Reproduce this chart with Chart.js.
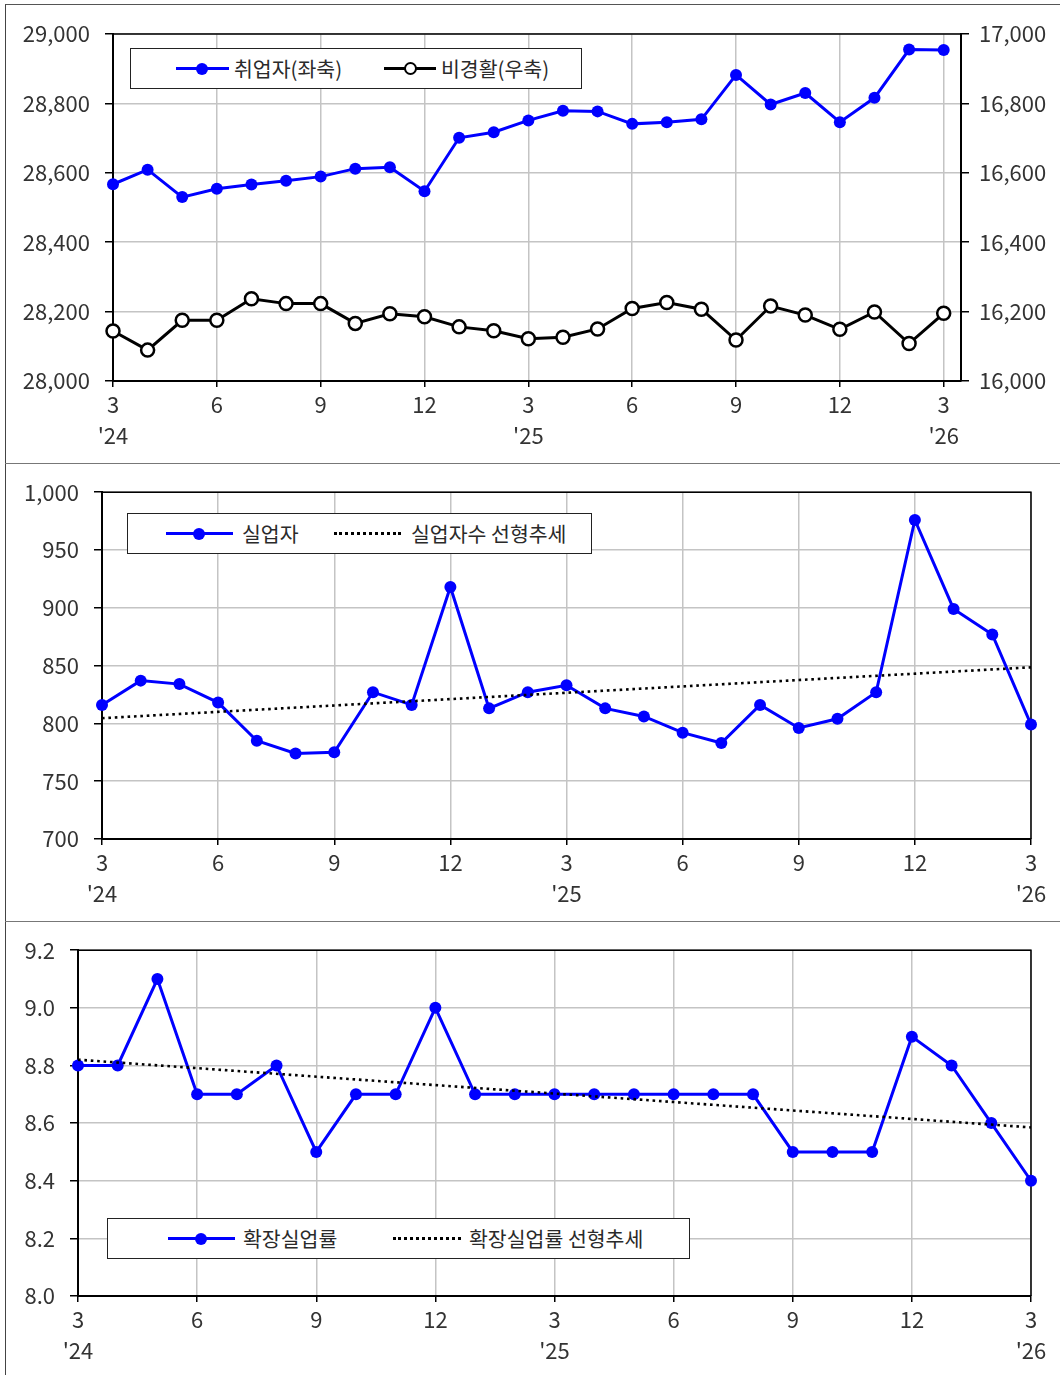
<!DOCTYPE html>
<html>
<head>
<meta charset="utf-8">
<script src="https://cdn.jsdelivr.net/npm/chart.js@4.4.1/dist/chart.umd.min.js"></script>
<style>
  body { margin: 0; background: #fff; width: 1060px; height: 1375px; position: relative; overflow: hidden;
         font-family: 'Noto Sans CJK KR', sans-serif; color: #222; }
  .frame { position: absolute; left: 5px; top: 4px; width: 1055px; height: 1371px; box-sizing: border-box;
           border-left: 1.5px solid #444; border-top: 1.5px solid #555; }
  .sep { position: absolute; left: 5px; width: 1055px; height: 0; border-top: 1.5px solid #777; }
  .panel { position: absolute; left: 6px; width: 1054px; }
  .legend { position: absolute; border: 1.5px solid #222; background: #fff; box-sizing: border-box; }
  .smp { position: absolute; height: 3px; }
  .dots { position: absolute; height: 0; border-top: 3px dotted #000; }
  .mk { position: absolute; width: 12px; height: 12px; border-radius: 50%; box-sizing: border-box; }
  .txt { position: absolute; font-size: 20.5px; line-height: 20px; white-space: nowrap; color: #2a2a2a; }
</style>
</head>
<body>
<div class="frame"></div>
<div class="sep" style="top:463px"></div>
<div class="sep" style="top:921px"></div>

<div class="panel" style="top:5px;height:457px"><canvas id="chart1"></canvas></div>
<div class="panel" style="top:464px;height:456px"><canvas id="chart2"></canvas></div>
<div class="panel" style="top:922px;height:453px"><canvas id="chart3"></canvas></div>

<div class="legend" style="left:130px;top:48px;width:452px;height:41px">
  <div class="smp" style="left:45px;top:18px;width:53px;background:#00f"></div>
  <div class="mk" style="left:65px;top:13.5px;background:#00f"></div>
  <div class="txt" style="left:103px;top:9px">취업자(좌축)</div>
  <div class="smp" style="left:253px;top:18px;width:52px;background:#000"></div>
  <div class="mk" style="left:273px;top:13px;width:13px;height:13px;background:#fff;border:2.5px solid #000"></div>
  <div class="txt" style="left:310px;top:9px">비경활(우축)</div>
</div>

<div class="legend" style="left:127px;top:513px;width:465px;height:41px">
  <div class="smp" style="left:38px;top:18px;width:67px;background:#00f"></div>
  <div class="mk" style="left:65px;top:13.5px;background:#00f"></div>
  <div class="txt" style="left:114px;top:9px">실업자</div>
  <div class="dots" style="left:206px;top:18px;width:67px"></div>
  <div class="txt" style="left:283px;top:9px">실업자수 선형추세</div>
</div>

<div class="legend" style="left:107px;top:1218px;width:583px;height:41px">
  <div class="smp" style="left:60px;top:18px;width:67px;background:#00f"></div>
  <div class="mk" style="left:87px;top:13.5px;background:#00f"></div>
  <div class="txt" style="left:135px;top:9px">확장실업률</div>
  <div class="dots" style="left:285px;top:18px;width:68px"></div>
  <div class="txt" style="left:361px;top:9px">확장실업률 선형추세</div>
</div>

<script>
// months 2024.3 ~ 2026.3
const months = ['24.3', '24.4', '24.5', '24.6', '24.7', '24.8', '24.9', '24.10', '24.11', '24.12',
                '25.1', '25.2', '25.3', '25.4', '25.5', '25.6', '25.7', '25.8', '25.9', '25.10',
                '25.11', '25.12', '26.1', '26.2', '26.3'];
const tickIndex = [0, 3, 6, 9, 12, 15, 18, 21, 24];
const tickLabels = [['3', "'24"], '6', '9', '12', ['3', "'25"], '6', '9', '12', ['3', "'26"]];

// 천명
const employed = [28567, 28609, 28530, 28554, 28566, 28577, 28589, 28612, 28616, 28547,
                  28701, 28717, 28751, 28779, 28777, 28741, 28746, 28754, 28882, 28797,
                  28830, 28746, 28816, 28955, 28954];
const inactive = [16144, 16089, 16175, 16175, 16237, 16223, 16223, 16166, 16194, 16185,
                  16156, 16145, 16122, 16126, 16150, 16209, 16226, 16207, 16118, 16216,
                  16190, 16149, 16199, 16108, 16195];
const unemployed = [816, 837, 834, 818, 785, 774, 775, 827, 816, 918,
                    813, 827, 833, 813, 806, 792, 783, 816, 796, 804,
                    827, 976, 899, 877, 799];
const unemployedTrend = [804.5, 848.5];   // 첫 달, 마지막 달
const extRate = [8.8, 8.8, 9.1, 8.7, 8.7, 8.8, 8.5, 8.7, 8.7, 9.0,
                 8.7, 8.7, 8.7, 8.7, 8.7, 8.7, 8.7, 8.7, 8.5, 8.5,
                 8.5, 8.9, 8.8, 8.6, 8.4];
const extRateTrend = [8.82, 8.585];

const font = { family: "'Noto Sans CJK KR', sans-serif", size: 22 };
const gridColor = '#c4c4c4';

function toPoints(values) {
    return values.map((v, i) => ({ x: i, y: v }));
}
function trendPoints(ends) {
    return [{ x: 0, y: ends[0] }, { x: months.length - 1, y: ends[1] }];
}

const framePlugin = {
    id: 'frame',
    beforeDatasetsDraw(chart, args, opts) {
        const a = chart.chartArea;
        const ctx = chart.ctx;
        ctx.save();
        ctx.strokeStyle = '#000';
        ctx.lineWidth = 1.5;
        ctx.beginPath();
        ctx.moveTo(a.left, a.top);
        ctx.lineTo(a.right, a.top);
        if (opts.right) {
            ctx.lineTo(a.right, a.bottom);
        }
        ctx.stroke();
        ctx.restore();
    }
};

function xScale(max, height) {
    return {
        type: 'linear',
        min: 0,
        max: max,
        afterBuildTicks: s => { s.ticks = tickIndex.map(v => ({ value: v })); },
        afterFit: s => { s.height = height; },
        grid: { color: gridColor, lineWidth: 1.5, tickLength: 6, tickColor: '#000', tickWidth: 1.5 },
        border: { color: '#000', width: 2 },
        ticks: {
            font: Object.assign({ lineHeight: 1.42 }, font),
            color: '#333',
            padding: 2,
            maxRotation: 0,
            autoSkip: false,
            callback: (v, i) => tickLabels[i]
        }
    };
}

function yScale(min, max, step, width, fmt, extra) {
    return Object.assign({
        type: 'linear',
        min: min,
        max: max,
        afterFit: s => { s.width = width; },
        grid: { color: gridColor, lineWidth: 1.5, tickLength: 8, tickColor: '#000', tickWidth: 1.5 },
        border: { color: '#000', width: 2 },
        ticks: { stepSize: step, font: font, color: '#333', padding: 15, callback: fmt }
    }, extra || {});
}

const commaFmt = v => Number(v).toLocaleString('en-US');

const baseOptions = {
    responsive: true,
    maintainAspectRatio: false,
    animation: false,
    plugins: { legend: { display: false }, tooltip: { enabled: false } }
};

const blueLine = {
    borderColor: '#0000ff',
    backgroundColor: '#0000ff',
    borderWidth: 3,
    pointRadius: 6,
    pointBorderWidth: 0,
    pointBackgroundColor: '#0000ff',
    tension: 0,
    clip: false
};

const trendLine = {
    borderColor: '#000',
    borderWidth: 2.6,
    borderDash: [2.6, 3.8],
    pointRadius: 0,
    tension: 0,
    clip: false,
    order: 0
};

const rightAxis = yScale(16000, 17000, 200, 99, commaFmt, { position: 'right' });
rightAxis.grid.drawOnChartArea = false;
rightAxis.ticks.padding = 10;

new Chart(document.getElementById('chart1'), {
    type: 'line',
    data: {
        datasets: [
            Object.assign({}, blueLine, { label: '취업자(좌축)', data: toPoints(employed), yAxisID: 'y' }),
            {
                label: '비경활(우축)',
                data: toPoints(inactive),
                yAxisID: 'y1',
                borderColor: '#000',
                borderWidth: 3,
                pointRadius: 6.5,
                pointBorderWidth: 2.5,
                pointBorderColor: '#000',
                pointBackgroundColor: '#fff',
                tension: 0,
                clip: false
            }
        ]
    },
    options: Object.assign({}, baseOptions, {
        layout: { padding: { top: 29, left: 0, right: 0, bottom: 0 } },
        plugins: Object.assign({ frame: { right: false } }, baseOptions.plugins),
        scales: {
            x: xScale(24.5, 81),
            y: yScale(28000, 29000, 200, 107, commaFmt),
            y1: rightAxis
        }
    }),
    plugins: [framePlugin]
});

new Chart(document.getElementById('chart2'), {
    type: 'line',
    data: {
        datasets: [
            Object.assign({}, blueLine, { label: '실업자', data: toPoints(unemployed), order: 1 }),
            Object.assign({}, trendLine, { label: '실업자수 선형추세', data: trendPoints(unemployedTrend) })
        ]
    },
    options: Object.assign({}, baseOptions, {
        layout: { padding: { top: 28, left: 0, right: 29, bottom: 0 } },
        plugins: Object.assign({ frame: { right: true } }, baseOptions.plugins),
        scales: {
            x: xScale(24, 81),
            y: yScale(700, 1000, 50, 96, commaFmt)
        }
    }),
    plugins: [framePlugin]
});

new Chart(document.getElementById('chart3'), {
    type: 'line',
    data: {
        datasets: [
            Object.assign({}, blueLine, { label: '확장실업률', data: toPoints(extRate), order: 1 }),
            Object.assign({}, trendLine, { label: '확장실업률 선형추세', data: trendPoints(extRateTrend) })
        ]
    },
    options: Object.assign({}, baseOptions, {
        layout: { padding: { top: 28, left: 0, right: 29, bottom: 0 } },
        plugins: Object.assign({ frame: { right: true } }, baseOptions.plugins),
        scales: {
            x: xScale(24, 79),
            y: yScale(8.0, 9.2, 0.2, 72, v => Number(v).toFixed(1))
        }
    }),
    plugins: [framePlugin]
});
</script>
</body>
</html>
